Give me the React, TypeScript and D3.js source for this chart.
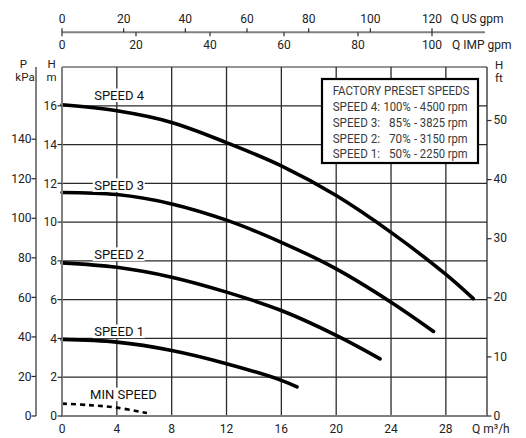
import React from "react";
import * as d3 from "d3";

// ---- data ----
const speed4Q = [0, 4, 8, 12, 16, 20, 24, 28, 30];
const speed4H = [16.05, 15.74, 15.14, 14.1, 12.9, 11.37, 9.47, 7.3, 6.05];
const speed3Q = [0, 4, 8, 12, 16, 20, 24, 27.1];
const speed3H = [11.53, 11.42, 10.94, 10.1, 8.96, 7.59, 5.87, 4.36];
const speed2Q = [0, 4, 8, 12, 16, 20, 23.2];
const speed2H = [7.9, 7.67, 7.16, 6.39, 5.44, 4.16, 2.95];
const speed1Q = [0, 4, 8, 12, 16, 17.14];
const speed1H = [3.95, 3.81, 3.38, 2.7, 1.84, 1.5];
const minQ = [0, 2, 4, 6.2];
const minH = [0.64, 0.56, 0.43, 0.15];

const qTicks = [0, 4, 8, 12, 16, 20, 24, 28];
const hTicks = [0, 2, 4, 6, 8, 10, 12, 14, 16];
const kpaTicks = [0, 20, 40, 60, 80, 100, 120, 140];
const ftTicks = [0, 10, 20, 30, 40, 50];
const usTicks = [0, 20, 40, 60, 80, 100, 120];
const impTicks = [0, 20, 40, 60, 80, 100];

const curveLabels = ["SPEED 4", "SPEED 3", "SPEED 2", "SPEED 1", "MIN SPEED"];
const legendTitle = "FACTORY PRESET SPEEDS";
const legendNames = ["SPEED 4:", "SPEED 3:", "SPEED 2:", "SPEED 1:"];
const legendPct = ["100%", "85%", "70%", "50%"];
const legendRpm = ["- 4500 rpm", "- 3825 rpm", "- 3150 rpm", "- 2250 rpm"];

const M_TO_KPA = 9.80665;
const M_TO_FT = 3.28084;

const FONT = "Roboto, 'Noto Sans', sans-serif";

export default function App() {
  const W = 526;
  const H = 438;
  const x0 = 62;
  const x1 = 487;
  const yB = 416;
  const yT = 67;
  const x = d3.scaleLinear().domain([0, 31]).range([x0, x1]);
  const y = d3.scaleLinear().domain([0, 18]).range([yB, yT]);
  const us = d3.scaleLinear().domain([0, 120]).range([x0, 432]);
  const imp = d3.scaleLinear().domain([0, 100]).range([x0, 432]);
  const kpaX = 36;
  const topY = 32.3;

  const line = d3
    .line<[number, number]>()
    .x((d) => x(d[0]))
    .y((d) => y(d[1]))
    .curve(d3.curveCatmullRom.alpha(0.5));

  const series = [
    [speed4Q, speed4H],
    [speed3Q, speed3H],
    [speed2Q, speed2H],
    [speed1Q, speed1H],
  ];
  const pts = (q: number[], h: number[]) => q.map((v, i) => [v, h[i]] as [number, number]);

  const gridColor = "#2a2a2a";
  const axisColor = "#808080";
  const textColor = "#222";

  // label placements (annotation positions)
  const labelPos = [
    { q: 2.35, h: 16.3, w: 52 },
    { q: 2.35, h: 11.66, w: 52 },
    { q: 2.35, h: 8.1, w: 52 },
    { q: 2.35, h: 4.12, w: 52 },
    { q: 2.05, h: 0.87, w: 68 },
  ];

  const legX = 322;
  const legY = 79;
  const legW = 156;
  const legH = 84;
  const rowY = [95, 110.7, 126.7, 142.7, 158.3];

  return (
    <svg
      width={W}
      height={H}
      style={{ position: "absolute", left: 0, top: 0, background: "#fff" }}
      fontFamily={FONT}
    >
      <rect x={0} y={0} width={W} height={H} fill="#fff" />
      {/* grid */}
      {qTicks.filter((q) => q > 0).map((q) => (
        <line key={"vg" + q} x1={x(q)} x2={x(q)} y1={yT} y2={yB} stroke={gridColor} strokeWidth={1.3} />
      ))}
      {hTicks.filter((h) => h > 0).map((h) => (
        <line key={"hg" + h} x1={x0} x2={x1} y1={y(h)} y2={y(h)} stroke={gridColor} strokeWidth={1.3} />
      ))}
      {/* top & right borders */}
      <line x1={x0} x2={x1} y1={yT} y2={yT} stroke={gridColor} strokeWidth={1.2} />
      <line x1={x1} x2={x1} y1={yT} y2={yB} stroke={gridColor} strokeWidth={1.3} />

      {/* curves */}
      {series.map(([q, h], i) => (
        <path
          key={"s" + i}
          d={line(pts(q, h)) || ""}
          fill="none"
          stroke="#000"
          strokeWidth={3.6}
          strokeLinecap="round"
        />
      ))}
      <path
        d={line(pts(minQ, minH)) || ""}
        fill="none"
        stroke="#000"
        strokeWidth={2.6}
        strokeDasharray="5,4"
      />

      {/* curve labels */}
      {curveLabels.map((t, i) => {
        const p = labelPos[i];
        const lx = x(p.q);
        const ly = y(p.h);
        return (
          <g key={"lab" + i}>
            <rect x={lx - 1.5} y={ly - 11.5} width={p.w} height={13.5} fill="#fff" />
            <text x={lx} y={ly} fontSize={13} fill="#111">
              {t}
            </text>
          </g>
        );
      })}

      {/* left H axis & bottom axis */}
      <line x1={x0} x2={x0} y1={yT} y2={yB + 1} stroke={axisColor} strokeWidth={2} />
      <line x1={x0 - 1} x2={x1} y1={yB} y2={yB} stroke={axisColor} strokeWidth={2} />
      {hTicks.map((h) => (
        <g key={"ht" + h}>
          <line x1={x0 - 4.5} x2={x0} y1={y(h)} y2={y(h)} stroke={gridColor} strokeWidth={1.2} />
          <text x={x0 - 5} y={y(h)} dy="0.35em" textAnchor="end" fontSize={12} fill={textColor}>
            {h}
          </text>
        </g>
      ))}
      <text x={51.5} y={67.5} textAnchor="middle" fontSize={11.5} fill={textColor}>H</text>
      <text x={51.5} y={81} textAnchor="middle" fontSize={11.5} fill={textColor}>m</text>

      {/* kPa axis */}
      <line x1={kpaX} x2={kpaX} y1={yT} y2={yB} stroke={axisColor} strokeWidth={2} />
      {kpaTicks.map((k) => {
        const yy = y(k / M_TO_KPA);
        return (
          <g key={"kt" + k}>
            <line x1={kpaX - 4.5} x2={kpaX} y1={yy} y2={yy} stroke={gridColor} strokeWidth={1.2} />
            <text x={kpaX - 4.5} y={yy} dy="0.35em" textAnchor="end" fontSize={12} fill={textColor}>
              {k}
            </text>
          </g>
        );
      })}
      <text x={23.5} y={67.5} textAnchor="middle" fontSize={11.5} fill={textColor}>P</text>
      <text x={25} y={81} textAnchor="middle" fontSize={11.5} fill={textColor}>kPa</text>

      {/* right ft axis */}
      {ftTicks.map((f) => {
        const yy = y(f / M_TO_FT);
        return (
          <g key={"ft" + f}>
            <line x1={x1} x2={x1 + 4.5} y1={yy} y2={yy} stroke={gridColor} strokeWidth={1.2} />
            <text x={x1 + 6.5} y={yy} dy="0.3em" fontSize={12} fill={textColor}>
              {f}
            </text>
          </g>
        );
      })}
      <text x={495} y={68.5} fontSize={11.5} fill={textColor}>H</text>
      <text x={495} y={82} fontSize={11.5} fill={textColor}>ft</text>

      {/* bottom labels */}
      {qTicks.map((q) => (
        <text key={"qt" + q} x={x(q)} y={433} textAnchor="middle" fontSize={12} fill={textColor}>
          {q}
        </text>
      ))}
      <text x={472} y={433} fontSize={12} fill={textColor}>Q m³/h</text>

      {/* top axes */}
      <line x1={x0} x2={485} y1={topY} y2={topY} stroke={axisColor} strokeWidth={2} />
      {usTicks.map((g) => (
        <g key={"us" + g}>
          <line x1={us(g)} x2={us(g)} y1={topY - 4} y2={topY} stroke={gridColor} strokeWidth={1.2} />
          <text x={us(g)} y={22.7} textAnchor="middle" fontSize={12} fill={textColor}>
            {g}
          </text>
        </g>
      ))}
      {impTicks.map((g) => (
        <g key={"imp" + g}>
          <line x1={imp(g)} x2={imp(g)} y1={topY} y2={topY + 4} stroke={gridColor} strokeWidth={1.2} />
          <text x={imp(g)} y={49.3} textAnchor="middle" fontSize={12} fill={textColor}>
            {g}
          </text>
        </g>
      ))}
      <text x={450.5} y={22.7} fontSize={12} fill={textColor}>Q US gpm</text>
      <text x={452} y={49.3} fontSize={12} fill={textColor}>Q IMP gpm</text>

      {/* legend box */}
      <rect x={legX} y={legY} width={legW} height={legH} fill="#fff" stroke="#000" strokeWidth={2.2} />
      <text x={332.7} y={rowY[0]} fontSize={12.6} fill="#3a3a3a" textLength={136.7} lengthAdjust="spacingAndGlyphs">
        {legendTitle}
      </text>
      {legendNames.map((n, i) => (
        <g key={"leg" + i} fontSize={12.6} fill="#3a3a3a">
          <text x={332.7} y={rowY[i + 1]} textLength={47.3} lengthAdjust="spacingAndGlyphs">
            {n}
          </text>
          <text
            x={410.7}
            y={rowY[i + 1]}
            textAnchor="end"
            textLength={legendPct[i].length === 4 ? 27.3 : 21.7}
            lengthAdjust="spacingAndGlyphs"
          >
            {legendPct[i]}
          </text>
          <text x={414} y={rowY[i + 1]} textLength={53.7} lengthAdjust="spacingAndGlyphs">
            {legendRpm[i]}
          </text>
        </g>
      ))}
    </svg>
  );
}
